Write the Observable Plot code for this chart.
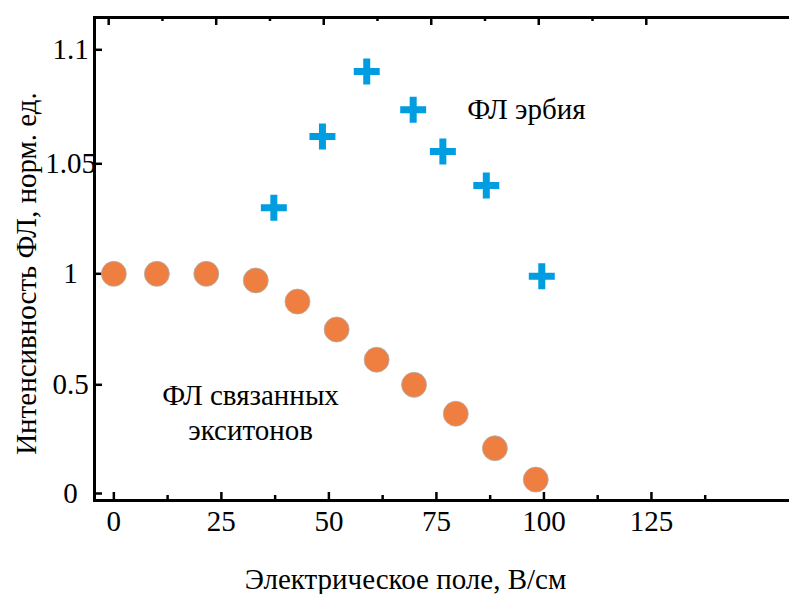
<!DOCTYPE html>
<html><head><meta charset="utf-8">
<script src="https://cdn.jsdelivr.net/npm/d3@7"></script>
<script src="https://cdn.jsdelivr.net/npm/@observablehq/plot@0.6"></script>
<style>body{margin:0;background:#fff} svg, svg text{font-family:"Liberation Serif","Tinos","Times New Roman","DejaVu Serif",serif !important;}</style>
</head><body><div id="chart"></div>
<script>
// Data
const excitonField = [0, 10, 21.5, 33, 42.7, 51.8, 61.1, 69.8, 79.5, 88.6, 98.1];
const excitonPL    = [1.0, 1.0, 1.0, 0.97, 0.875, 0.749, 0.613, 0.5, 0.367, 0.208, 0.064];
const erbiumField  = [37.2, 48.5, 58.8, 69.6, 76.5, 86.6, 99.5];
const erbiumPL     = [1.030, 1.062, 1.0905, 1.0737, 1.0554, 1.0401, 0.989];
const xTicks       = [0, 25, 50, 75, 100, 125];
const xMinorTicks  = [12.5, 37.5, 62.5, 87.5, 112.5, 137.5];
const topMajorTicks = [0, 25, 50, 75, 100, 125];
const topMinorTicks = [12.5, 37.5, 62.5, 87.5, 112.5];
const yTicks       = [0, 0.5, 1, 1.05, 1.1];
const yTickLabels  = ["0", "0.5", "1", "1.05", "1.1"];
const xTitle = "Электрическое поле, В/см";
const yTitle = "Интенсивность ФЛ, норм. ед.";
const erbiumLabel = "ФЛ эрбия";
const excitonLabel = "ФЛ связанных\nэкситонов";

const exciton = excitonField.map((x, i) => ({x, y: excitonPL[i]}));
const erbium = erbiumField.map((x, i) => ({x, y: erbiumPL[i]}));

const W = 789, H = 594, mL = 94, mR = 0, mT = 17, mB = 94;
const frameW = W - mL - mR, frameH = H - mT - mB;
const xDomain = [-4.5, 157.1];
const font = "'Liberation Serif', Tinos, 'Times New Roman', 'DejaVu Serif', serif";
const fs = 29;

const chart = Plot.plot({
  width: W, height: H,
  marginLeft: mL, marginRight: mR, marginTop: mT, marginBottom: mB,
  style: {fontFamily: font, fontSize: fs + "px", background: "#fff", color: "#000"},
  x: {type: "linear", domain: xDomain, range: [mL, W - mR]},
  y: {type: "linear", domain: yTicks, range: [493, 384.3, 273.3, 163.3, 49.3]},
  marks: [
    Plot.frame({stroke: "#000", strokeWidth: 3, insetRight: -4}),
    Plot.tickY(yTicks, {y: d => d, insetRight: frameW - 8, stroke: "#000", strokeWidth: 2.5}),
    Plot.tickX(xTicks, {x: d => d, insetTop: frameH - 8, stroke: "#000", strokeWidth: 2.5}),
    Plot.tickX(xMinorTicks, {x: d => d, insetTop: frameH - 5, stroke: "#000", strokeWidth: 2.5}),
    Plot.tickX(topMajorTicks, {x: d => d - 1.2, insetBottom: frameH - 8, stroke: "#000", strokeWidth: 2.5}),
    Plot.tickX(topMinorTicks, {x: d => d - 1.2, insetBottom: frameH - 4, stroke: "#000", strokeWidth: 2.5}),
    Plot.axisY({ticks: yTicks, tickFormat: d => yTickLabels[yTicks.indexOf(d)], tickSize: 0, tickPadding: 24,
      textAnchor: "middle", fontSize: fs, fontFamily: font, fill: "#000", label: null}),
    Plot.axisX({ticks: xTicks, tickFormat: d => String(d), tickSize: 0, tickPadding: 10,
      fontSize: fs, fontFamily: font, fill: "#000", label: null}),
    Plot.text([xTitle], {frameAnchor: "bottom", dx: -36.5, dy: 79, lineAnchor: "middle",
      fontSize: fs, fontFamily: font, fill: "#000"}),
    Plot.text([yTitle], {frameAnchor: "left", rotate: -90, dx: -68, dy: 14.5, lineAnchor: "middle",
      textAnchor: "middle", fontSize: fs, fontFamily: font, fill: "#000"}),
    Plot.text([erbiumLabel], {x: 82.2, y: 1.0738, textAnchor: "start", lineAnchor: "middle",
      fontSize: fs, fontFamily: font, fill: "#000"}),
    Plot.text([excitonLabel], {x: 31.8, y: 0.379, textAnchor: "middle", lineAnchor: "middle",
      lineHeight: 1.2, fontSize: fs, fontFamily: font, fill: "#000"}),
    Plot.dot(exciton, {x: "x", y: "y", r: 12.5, fill: "#ee7f41", stroke: "#b0b0b0", strokeWidth: 0.8}),
    Plot.dot(erbium, {x: "x", y: "y", r: 8.4, symbol: "plus", stroke: "#009de0", strokeWidth: 7, fill: "none"})
  ]
});
document.getElementById("chart").appendChild(chart);
</script>
</body></html>
